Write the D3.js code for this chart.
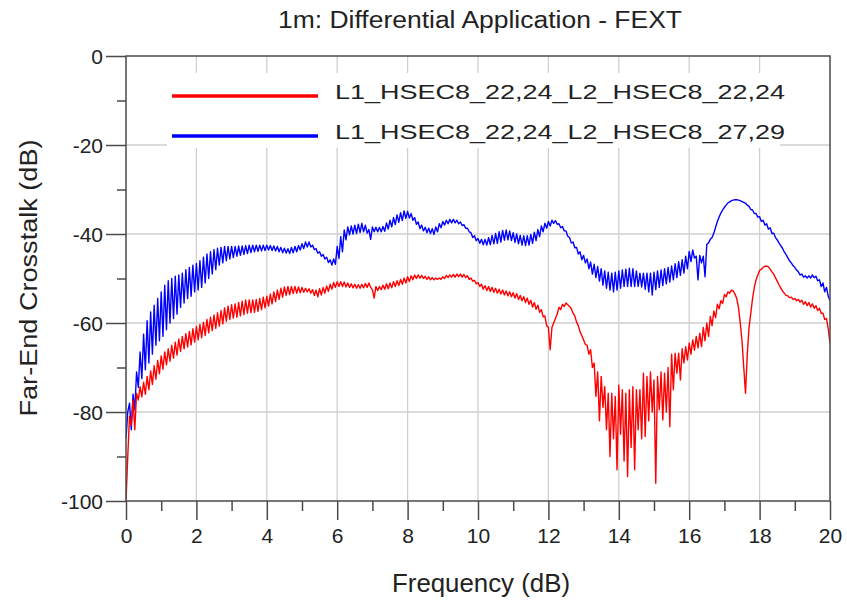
<!DOCTYPE html>
<html>
<head>
<meta charset="utf-8">
<script src="https://cdn.jsdelivr.net/npm/d3@7/dist/d3.min.js"></script>
<style>
  html, body { margin: 0; padding: 0; background: #fff; }
  svg { display: block; font-family: "Liberation Sans", Arial, Helvetica, sans-serif; }
</style>
</head>
<body>
<svg id="chart" width="847" height="602"></svg>
<script>
// ---------------- DATA ----------------
const chartTitle = "1m: Differential Application - FEXT";
const xLabel = "Frequency (dB)";
const yLabel = "Far-End Crosstalk (dB)";
const seriesNames = ["L1_HSEC8_22,24_L2_HSEC8_22,24", "L1_HSEC8_22,24_L2_HSEC8_27,29"];
const seriesColors = ["#ff0000", "#0000ff"];
const xTicks = [0, 2, 4, 6, 8, 10, 12, 14, 16, 18, 20];
const xMinorTicks = [1, 3, 5, 7, 9, 11, 13, 15, 17, 19];
const yTicks = [0, -20, -40, -60, -80, -100];
const yMinorTicks = [-10, -30, -50, -70, -90];
const freqStep = 0.05; // GHz sampling grid, 0..20

// Series 1 (red): L1_HSEC8_22,24_L2_HSEC8_22,24  (one row per GHz, 20 samples each)
const redValues = [
  -100,-90,-81,-83,-77.3,-84,-75.8,-77.3,-74.3,-76.6,-73.3,-76,-72,-75,-70.8,-73.8,-69.6,-72.6,-68.4,-71.4,
  -67.4,-70.4,-66.5,-69.4,-65.8,-68.6,-65,-67.9,-64.3,-67.2,-63.6,-66.4,-63,-65.8,-62.4,-65.4,-61.9,-64.9,-61.3,-64.3,
  -60.8,-63.8,-60.3,-63.3,-59.8,-62.8,-59.2,-62.2,-58.7,-61.7,-58.2,-61.2,-57.7,-60.7,-57.2,-60.2,-56.6,-59.6,-56.2,-59.2,
  -55.9,-58.9,-55.7,-58.7,-55.4,-58.4,-55.1,-58.1,-54.8,-57.8,-54.8,-57.7,-54.8,-57.6,-54.7,-57.4,-54.5,-57,-54.2,-56.6,
  -54,-56.2,-53.5,-55.7,-53,-55.2,-52.6,-54.7,-52.2,-54.2,-51.9,-53.8,-51.8,-53.6,-51.8,-53.4,-51.8,-53.3,-51.9,-53.2,
  -52,-53.1,-52.2,-53,-52.3,-53.3,-52.5,-53.8,-52.6,-54.1,-52.3,-53.7,-52,-53.3,-51.7,-52.9,-51.3,-52.4,-50.9,-52,
  -50.7,-51.8,-50.7,-51.8,-50.8,-51.9,-51,-52,-51.2,-52.1,-51.3,-52.2,-51.4,-52.2,-51.3,-52.1,-51.1,-52,-51,-52,
  -52.5,-54.4,-51.8,-52.7,-51.8,-52.5,-51.5,-52.4,-51.2,-52.3,-51,-52.1,-50.7,-51.8,-50.5,-51.6,-50.2,-51.3,-49.9,-51,
  -49.6,-50.7,-49.4,-50.3,-49.2,-50,-49.2,-49.9,-49.3,-50,-49.5,-50.2,-49.6,-50.3,-49.8,-50.3,-49.9,-50.2,-49.9,-50.2,
  -49.6,-50,-49.3,-49.8,-49.2,-49.7,-49.1,-49.7,-49,-49.6,-49,-49.7,-49.1,-49.8,-49.4,-50.2,-49.9,-50.6,-50.4,-51.2,
  -50.9,-51.8,-51.3,-52.4,-51.6,-52.7,-51.8,-52.9,-52,-53.1,-52.2,-53.3,-52.4,-53.5,-52.6,-53.7,-52.8,-53.9,-53,-54.1,
  -53.2,-54.4,-53.4,-54.7,-53.8,-55,-54.1,-55.4,-54.4,-55.8,-54.9,-56.4,-55.4,-56.9,-56,-57.6,-57,-58.6,-58.4,-60.6,
  -61,-66,-61,-60,-59,-58,-56.5,-57,-55.8,-56.3,-55.5,-55.9,-56.3,-56.8,-57.8,-58.4,-59.8,-60.6,-62,-62.8,
  -63.8,-64.8,-65,-67,-66,-70,-69,-76.5,-71,-82,-72,-79,-74.3,-84,-75.8,-90,-75.8,-86,-76.5,-93,
  -74,-85,-75,-91,-75.8,-94.5,-75,-88,-74.3,-93,-75,-84,-75,-86,-71.3,-85.5,-72,-82,-71,-80,
  -72.8,-96,-72,-79.5,-71,-81.8,-71.3,-80,-70,-83.3,-67,-75,-66.8,-71.3,-66.8,-72.8,-65.8,-69,-65.3,-68.3,
  -64.5,-67,-63.8,-66.1,-63,-65.6,-62.3,-65.3,-61,-64,-60,-63,-58.5,-60.6,-57.3,-58.8,-55.8,-56.8,-55,-55.6,
  -53.6,-54.1,-53,-53.3,-52.6,-52.8,-53.5,-54.5,-56.5,-60,-64,-70,-75.8,-67,-61,-57.8,-54.5,-52,-50.3,-49.2,
  -48.2,-47.9,-47.5,-47.3,-47.2,-47.4,-47.9,-48.5,-49,-49.8,-50.6,-51.4,-52.1,-52.8,-53.3,-53.8,-53.9,-54.3,-54.2,-54.7,
  -54.5,-55,-54.7,-55.3,-54.9,-55.8,-55.2,-56.1,-55.4,-56.4,-55.7,-56.7,-56.1,-57.2,-56.7,-57.8,-57.8,-59.2,-59,-61.3,
  -64.6
];

// Series 2 (blue): L1_HSEC8_22,24_L2_HSEC8_27,29
const blueValues = [
  -86,-80,-78,-84,-76,-79.5,-71,-74.5,-66.5,-72.5,-62.5,-70.5,-59.5,-69,-57.5,-67,-56,-65,-54.5,-64,
  -53,-63,-51.5,-61.5,-50.5,-60,-50,-59,-49.5,-58,-49.2,-56.5,-48.8,-55.5,-48,-54.5,-47.5,-54,-47,-53,
  -46.6,-52.6,-46,-52,-45.2,-51,-44.5,-50,-44,-49,-43.5,-48,-43.2,-47,-43,-46.5,-42.8,-46,-42.8,-45.6,
  -42.8,-45.3,-42.8,-45,-42.7,-44.8,-42.7,-44.6,-42.6,-44.4,-42.5,-44.2,-42.5,-44,-42.5,-43.9,-42.5,-43.8,-42.5,-43.7,
  -42.5,-43.6,-42.6,-43.7,-42.7,-43.8,-42.8,-44,-43,-44.2,-43.2,-44.3,-43.3,-44.4,-43,-44.2,-42.8,-44,-42.6,-43.6,
  -42.2,-43.3,-41.8,-42.9,-41.8,-42.9,-42.5,-43.5,-43.3,-44.3,-44,-45,-44.6,-45.6,-45.2,-46.4,-45.8,-47,-45.6,-46.8,
  -42.8,-45.5,-40.6,-44,-39.1,-41.3,-38.4,-40.2,-38.2,-40,-38,-39.9,-37.8,-39.7,-37.6,-39.5,-38,-39.8,-39,-41.2,
  -38.4,-39.5,-38.5,-39.5,-38.5,-39.5,-38.3,-39.4,-37.5,-38.9,-36.9,-38.4,-36.3,-37.9,-35.7,-37.4,-35.2,-37,-34.8,-36.5,
  -34.9,-36.4,-35.4,-36.9,-36.3,-37.8,-37.3,-38.8,-38,-39.3,-38.5,-39.7,-38.7,-39.9,-38.8,-40.1,-38.4,-39.5,-37.7,-38.6,
  -37.2,-38,-36.9,-37.7,-36.7,-37.5,-36.7,-37.5,-36.9,-37.7,-37.3,-38.1,-37.9,-38.7,-38.7,-39.5,-39.7,-40.8,-40.4,-41.5,
  -41,-42.1,-41.2,-42.4,-41.2,-42.5,-40.8,-42.4,-40.3,-42.2,-39.9,-42.1,-39.5,-41.8,-39.2,-41.4,-39.1,-41.3,-39.3,-41.5,
  -39.7,-41.9,-40,-42.2,-40.3,-42.5,-40.4,-42.6,-40.4,-42.5,-40.1,-42.1,-39.6,-41.5,-39,-40.6,-38.2,-39.5,-37.6,-38.7,
  -37.2,-38.2,-36.9,-37.6,-37,-37.8,-37.7,-38.6,-38.3,-39.3,-39.3,-40.5,-40.8,-42,-41.8,-43.1,-43,-44.5,-44,-45.8,
  -44.8,-46.5,-45.6,-47.8,-46.3,-49,-46.8,-49.8,-47.3,-50.6,-47.8,-51.5,-48.3,-52.2,-48.6,-52.6,-48.8,-53,-48.6,-52.6,
  -48.3,-52.2,-48.1,-51.8,-47.9,-51.8,-47.7,-51.8,-47.8,-51.8,-48.3,-51.8,-48.8,-51.9,-48.8,-52.4,-48.8,-53,-48.8,-53.7,
  -48.6,-52.5,-48.3,-52,-48.1,-51.6,-47.8,-51.2,-47.5,-50.8,-47.2,-50.3,-46.7,-49.8,-46.2,-49.3,-45.8,-48.8,-45,-47.8,
  -43.9,-46.2,-43.6,-45.4,-45,-50.3,-44.8,-46.5,-45,-49.6,-42.3,-42,-41.2,-40.8,-39.8,-38.5,-37.2,-36.2,-35.3,-34.6,
  -34,-33.5,-33,-32.8,-32.5,-32.4,-32.3,-32.3,-32.4,-32.5,-32.7,-32.9,-33.1,-33.5,-33.8,-34.5,-34.6,-35.4,-35.4,-36.2,
  -36.1,-37.2,-36.9,-38,-37.7,-38.9,-38.6,-39.9,-39.8,-40.8,-41.3,-42,-42.6,-43.2,-44,-44.6,-45.3,-46,-46.5,-47.1,
  -47.5,-48.1,-48.5,-49.2,-49,-49.7,-49.4,-49.9,-49.4,-49.9,-49.2,-49.8,-49.5,-50.5,-50.3,-51.8,-51,-53,-52,-54,
  -55
];

// ---------------- CHART ----------------
const svg = d3.select("#chart");
const plot = { left: 126, right: 830, top: 56, bottom: 501 };
const x = d3.scaleLinear().domain([0, 20]).range([plot.left, plot.right]);
const y = d3.scaleLinear().domain([-100, 0]).range([plot.bottom, plot.top]);
const frameColor = "#4a4a4a";
const gridColor = "#cfcfcf";

// grid
svg.append("g").selectAll("line").data(xTicks.filter(d => d > 0 && d < 20)).join("line")
  .attr("x1", d => x(d)).attr("x2", d => x(d)).attr("y1", plot.top).attr("y2", plot.bottom)
  .attr("stroke", gridColor).attr("stroke-width", 1.3);
svg.append("g").selectAll("line").data(yTicks.filter(d => d < 0 && d > -100)).join("line")
  .attr("x1", plot.left).attr("x2", plot.right).attr("y1", d => y(d)).attr("y2", d => y(d))
  .attr("stroke", gridColor).attr("stroke-width", 1.3);

// legend background box (covers gridlines)
svg.append("rect").attr("x", 167).attr("y", 73).attr("width", 613).attr("height", 75).attr("fill", "#fff");

// curves
const freq = d3.range(redValues.length).map(i => +(i * freqStep).toFixed(2));
const line = d3.line().x((d, i) => x(freq[i])).y(d => y(d));
svg.append("clipPath").attr("id", "clip").append("rect")
  .attr("x", plot.left).attr("y", plot.top).attr("width", plot.right - plot.left).attr("height", plot.bottom - plot.top);
svg.append("path").datum(blueValues).attr("d", line).attr("fill", "none")
  .attr("stroke", seriesColors[1]).attr("stroke-width", 1.4).attr("stroke-linejoin", "round").attr("clip-path", "url(#clip)");
svg.append("path").datum(redValues).attr("d", line).attr("fill", "none")
  .attr("stroke", seriesColors[0]).attr("stroke-width", 1.4).attr("stroke-linejoin", "round").attr("clip-path", "url(#clip)");

// frame
svg.append("rect").attr("x", plot.left).attr("y", plot.top)
  .attr("width", plot.right - plot.left).attr("height", plot.bottom - plot.top)
  .attr("fill", "none").attr("stroke", frameColor).attr("stroke-width", 1.5);

// axes
const fmt = d => String(d);
const xAxis = svg.append("g").attr("transform", `translate(0,${plot.bottom})`)
  .call(d3.axisBottom(x).tickValues(xTicks).tickSize(19).tickPadding(7).tickFormat(fmt));
const xMinor = svg.append("g").attr("transform", `translate(0,${plot.bottom})`)
  .call(d3.axisBottom(x).tickValues(xMinorTicks).tickSize(10).tickFormat(""));
const yAxis = svg.append("g").attr("transform", `translate(${plot.left},0)`)
  .call(d3.axisLeft(y).tickValues(yTicks).tickSize(20).tickPadding(3).tickFormat(fmt));
const yMinor = svg.append("g").attr("transform", `translate(${plot.left},0)`)
  .call(d3.axisLeft(y).tickValues(yMinorTicks).tickSize(9).tickFormat(""));
[xAxis, xMinor, yAxis, yMinor].forEach(g => {
  g.select(".domain").remove();
  g.selectAll(".tick line").attr("stroke", frameColor).attr("stroke-width", 1.5);
  g.selectAll("text").attr("font-size", 21).attr("fill", "#222")
    .attr("font-family", '"Liberation Sans", Arial, sans-serif');
});
xAxis.selectAll("text").attr("dy", null).attr("y", 42);
yAxis.selectAll("text").attr("dy", null).attr("y", 7.5);

// title
svg.append("text").attr("x", 480).attr("y", 28).attr("text-anchor", "middle")
  .attr("font-size", 23).attr("fill", "#222")
  .attr("textLength", 404).attr("lengthAdjust", "spacingAndGlyphs").text(chartTitle);

// axis labels
svg.append("text").attr("x", 481).attr("y", 592).attr("text-anchor", "middle")
  .attr("font-size", 25).attr("fill", "#222")
  .attr("textLength", 178).attr("lengthAdjust", "spacingAndGlyphs").text(xLabel);
svg.append("text").attr("transform", "translate(37,278) rotate(-90)").attr("text-anchor", "middle")
  .attr("font-size", 23).attr("fill", "#222")
  .attr("textLength", 277).attr("lengthAdjust", "spacingAndGlyphs").text(yLabel);

// legend
const legendRows = [99, 139];
seriesNames.forEach((name, i) => {
  svg.append("line").attr("x1", 172).attr("x2", 318)
    .attr("y1", legendRows[i] - 3).attr("y2", legendRows[i] - 3)
    .attr("stroke", seriesColors[i]).attr("stroke-width", 3.5);
  svg.append("text").attr("x", 335).attr("y", legendRows[i])
    .attr("font-size", 21).attr("fill", "#222")
    .attr("textLength", 450).attr("lengthAdjust", "spacingAndGlyphs").text(name);
});
</script>
</body>
</html>
